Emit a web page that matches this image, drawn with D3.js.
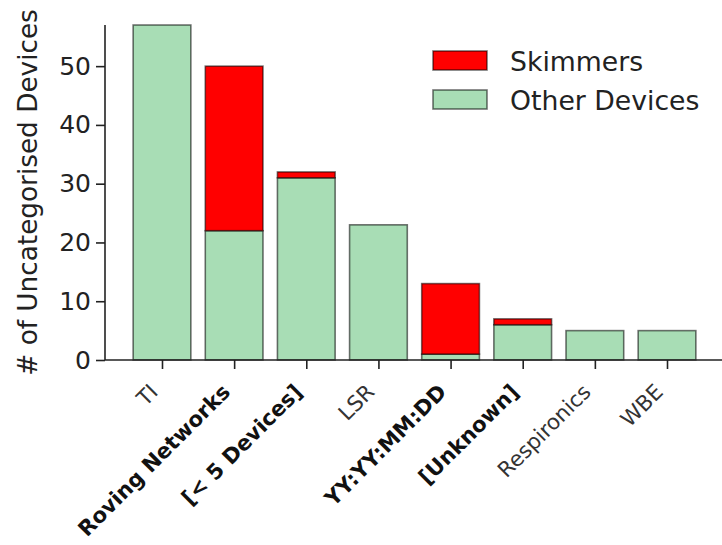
<!DOCTYPE html>
<html><head><meta charset="utf-8">
<script src="https://cdn.jsdelivr.net/npm/d3@7"></script>
<style>body{margin:0;background:#fff}svg{display:block}text{font-family:"DejaVu Sans",sans-serif}</style>
</head><body><svg id="c" width="722" height="545"></svg>
<script>
const categories = ["TI","Roving Networks","[< 5 Devices]","LSR","YY:YY:MM:DD","[Unknown]","Respironics","WBE"];
const boldLabels = ["Roving Networks","[< 5 Devices]","YY:YY:MM:DD","[Unknown]"];
const otherDevices = [57,22,31,23,1,6,5,5];
const skimmers = [0,28,1,0,12,1,0,0];
const yTicks = [0,10,20,30,40,50];
const seriesNames = ["Skimmers","Other Devices"];
const colors = {"Skimmers":"#ff0000","Other Devices":"#a8ddb5"};

const svg = d3.select("#c");
const axL = 105, axR = 724, axT = 25, axB = 360;
const x = d3.scaleLinear().domain([-0.79, 7.79]).range([axL, axR]);
const y = d3.scaleLinear().domain([0, 57]).range([axB, axT]);
const bw = 0.8;

const data = categories.map((c,i)=>({c,i,o:otherDevices[i],s:skimmers[i]}));
const g = svg.append("g");
g.selectAll("rect.o").data(data).join("rect")
  .attr("x", d=>x(d.i-bw/2)).attr("width", d=>x(d.i+bw/2)-x(d.i-bw/2))
  .attr("y", d=>y(d.o)).attr("height", d=>y(0)-y(d.o))
  .attr("fill", colors["Other Devices"]).attr("stroke","rgba(0,0,0,0.55)").attr("stroke-width",1.6);
g.selectAll("rect.s").data(data.filter(d=>d.s>0)).join("rect")
  .attr("x", d=>x(d.i-bw/2)).attr("width", d=>x(d.i+bw/2)-x(d.i-bw/2))
  .attr("y", d=>y(d.o+d.s)).attr("height", d=>y(d.o)-y(d.o+d.s))
  .attr("fill", colors["Skimmers"]).attr("stroke","rgba(0,0,0,0.55)").attr("stroke-width",1.6);

const ya = svg.append("g").attr("transform",`translate(${axL},0)`)
  .call(d3.axisLeft(y).tickValues(yTicks).tickSize(9).tickPadding(5));
ya.select(".domain").remove();
ya.selectAll("text").attr("font-size",25).attr("fill","#222").style("font-family","DejaVu Sans");
ya.selectAll("line").attr("stroke","#222").attr("stroke-width",1.6);
svg.append("line").attr("x1",axL).attr("x2",axL).attr("y1",axT).attr("y2",axB).attr("stroke","#222").attr("stroke-width",1.6);

const xa = svg.append("g").attr("transform",`translate(0,${axB})`)
  .call(d3.axisBottom(x).tickValues(d3.range(categories.length)).tickSize(9).tickFormat(""));
xa.select(".domain").remove();
xa.selectAll("line").attr("stroke","#222").attr("stroke-width",1.6);
svg.append("line").attr("x1",axL).attr("x2",axR).attr("y1",axB).attr("y2",axB).attr("stroke","#222").attr("stroke-width",1.6);

svg.append("g").selectAll("text").data(categories).join("text")
  .attr("transform",(d,i)=>`translate(${x(i)-8},388) rotate(-45)`)
  .attr("text-anchor","end").attr("dominant-baseline","central")
  .attr("font-size",21.3)
  .attr("font-weight",d=>boldLabels.includes(d)?"bold":"normal")
  .attr("fill",d=>boldLabels.includes(d)?"#111":"#333")
  .text(d=>d);

svg.append("text").attr("transform",`translate(28,${(axT+axB)/2}) rotate(-90)`)
  .attr("text-anchor","middle").attr("dominant-baseline","central")
  .attr("font-size",26.3).attr("fill","#222").text("# of Uncategorised Devices");

const lg = svg.append("g").attr("transform","translate(433,51)");
seriesNames.forEach((n,k)=>{
  const row = lg.append("g").attr("transform",`translate(0,${k*39})`);
  row.append("rect").attr("width",54).attr("height",19).attr("fill",colors[n])
    .attr("stroke","rgba(0,0,0,0.55)").attr("stroke-width",1.6);
  row.append("text").attr("x",77).attr("y",10).attr("dominant-baseline","central")
    .attr("font-size",26.7).attr("fill","#222").text(n);
});
</script></body></html>
